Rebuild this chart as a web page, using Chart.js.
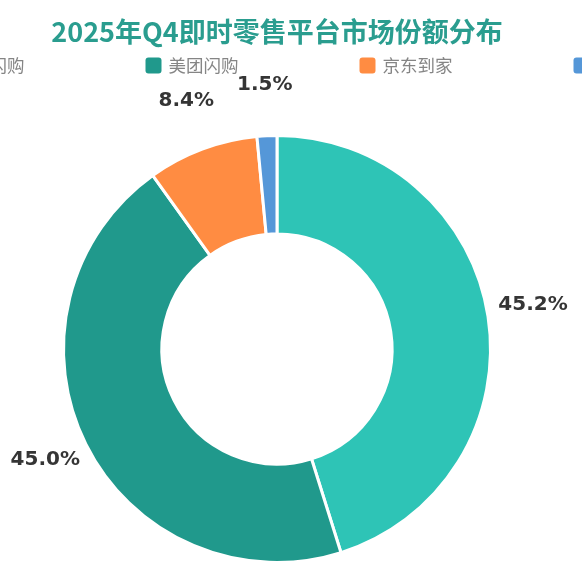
<!DOCTYPE html>
<html>
<head>
<meta charset="utf-8">
<script src="https://cdn.jsdelivr.net/npm/chart.js@4.4.1/dist/chart.umd.min.js"></script>
<style>
  html, body { margin: 0; padding: 0; background: #fff; overflow: hidden; }
  #wrap { position: absolute; left: -103px; top: 0; width: 760px; height: 582px; }
</style>
</head>
<body>
<div id="wrap"><canvas id="chartShare"></canvas></div>
<script>
// Data
var platforms = ['淘宝闪购', '美团闪购', '京东到家', '其他'];
var shares = [45.2, 45.0, 8.4, 1.5];
var colors = ['#2ec4b6', '#20998c', '#ff8c42', '#5597d8'];

var CJK = "'Noto Sans CJK SC', 'Noto Sans', sans-serif";

// percent labels outside the ring
var outsideLabels = {
    id: 'outsideLabels',
    afterDatasetsDraw: function(chart) {
        var ctx = chart.ctx;
        var meta = chart.getDatasetMeta(0);
        ctx.save();
        ctx.font = "bold 20px 'DejaVu Sans', sans-serif";
        ctx.fillStyle = '#353535';
        ctx.textAlign = 'center';
        ctx.textBaseline = 'alphabetic';
        meta.data.forEach(function(arc, i) {
            var p = arc.getProps(['x', 'y', 'startAngle', 'endAngle', 'outerRadius'], true);
            var mid = (p.startAngle + p.endAngle) / 2;
            var r = p.outerRadius + 45.5;
            ctx.fillText(shares[i].toFixed(1) + '%', p.x + Math.cos(mid) * r, p.y + Math.sin(mid) * r);
        });
        ctx.restore();
    }
};

// wide legend row under the title
var wideLegend = {
    id: 'wideLegend',
    afterDraw: function(chart) {
        var ctx = chart.ctx;
        var cx = (chart.chartArea.left + chart.chartArea.right) / 2;
        var step = 214;
        var startX = cx - 345.5;
        var y = 65.5;
        ctx.save();
        ctx.font = '17.5px ' + CJK;
        ctx.textAlign = 'left';
        ctx.textBaseline = 'middle';
        platforms.forEach(function(name, i) {
            var bx = startX + i * step;
            ctx.fillStyle = colors[i];
            ctx.beginPath();
            if (ctx.roundRect) {
                ctx.roundRect(bx, y - 8, 16, 16, 3);
            } else {
                ctx.rect(bx, y - 8, 16, 16);
            }
            ctx.fill();
            ctx.fillStyle = '#858585';
            ctx.fillText(name, bx + 23, y);
        });
        ctx.restore();
    }
};

var ctx = document.getElementById('chartShare').getContext('2d');
var shareChart = new Chart(ctx, {
    type: 'doughnut',
    data: {
        labels: platforms,
        datasets: [{
            data: shares,
            backgroundColor: colors,
            borderColor: '#ffffff',
            borderWidth: 3
        }]
    },
    options: {
        responsive: true,
        maintainAspectRatio: false,
        animation: false,
        radius: 213.5,
        cutout: '53.9%',
        layout: {
            padding: { top: 0, bottom: 14, left: 0, right: 0 }
        },
        plugins: {
            legend: { display: false },
            tooltip: { enabled: false },
            title: {
                display: true,
                text: '2025年Q4即时零售平台市场份额分布',
                color: '#2a9d8f',
                font: { family: CJK, size: 27, weight: 'bold' },
                padding: { top: 16, bottom: 81.6 }
            }
        }
    },
    plugins: [outsideLabels, wideLegend]
});
</script>
</body>
</html>
